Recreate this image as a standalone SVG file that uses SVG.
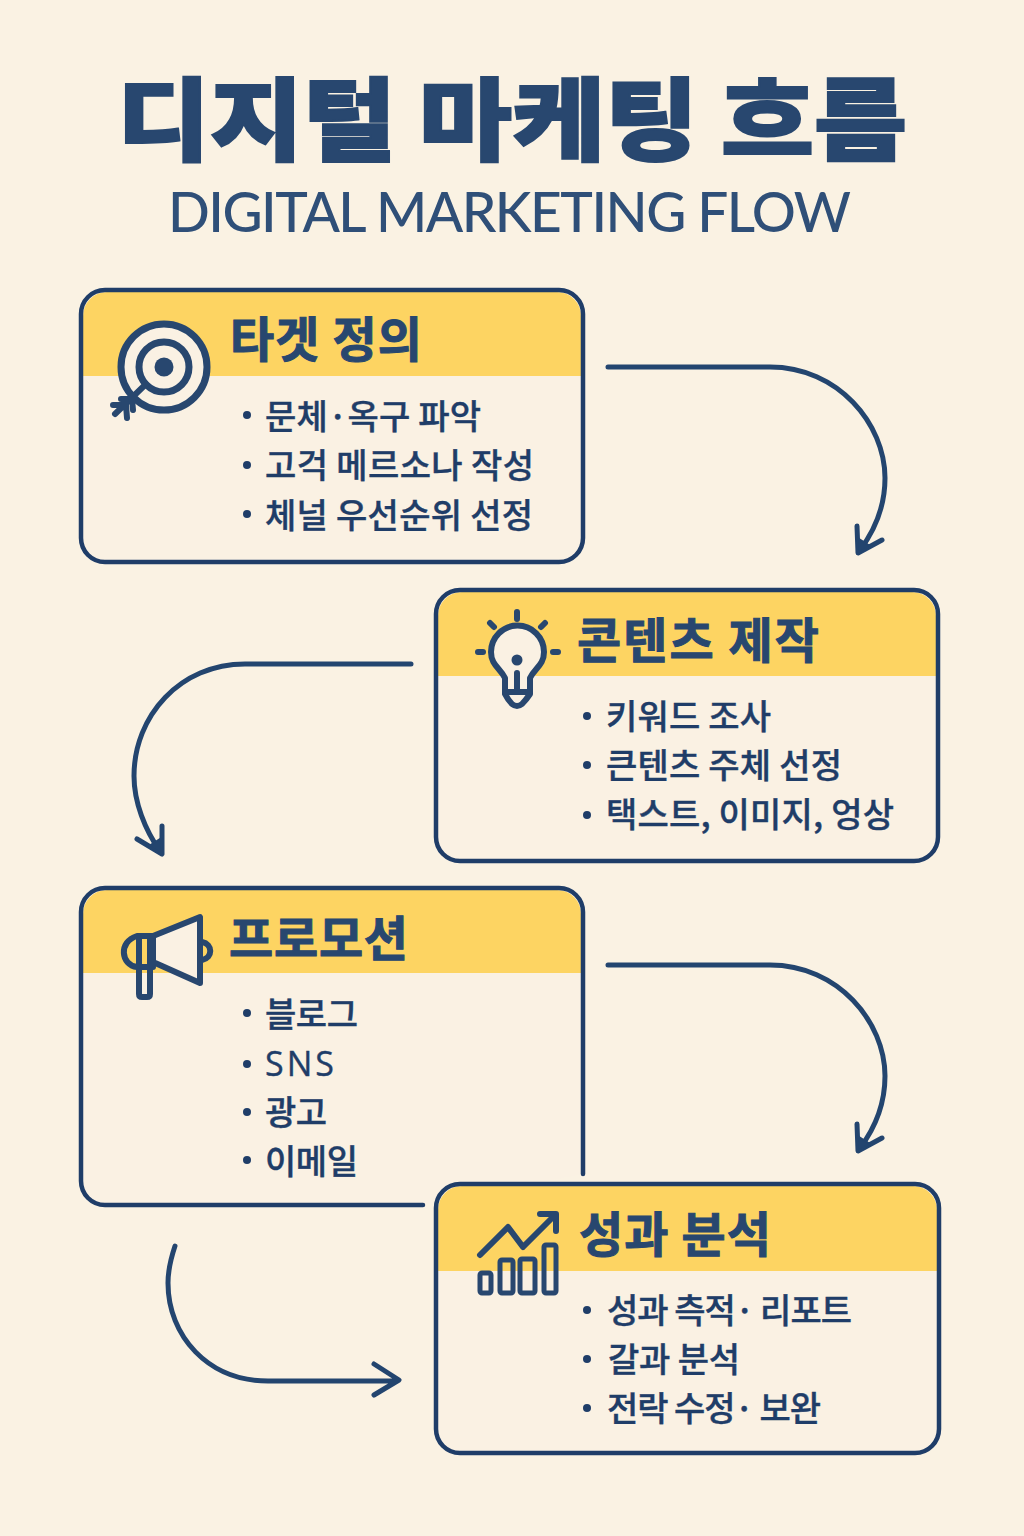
<svg xmlns="http://www.w3.org/2000/svg" width="1024" height="1536" viewBox="0 0 1024 1536">
<style>
text{font-family:"Noto Sans CJK KR","Noto Sans",sans-serif;fill:#1f3d68}
.t{font-size:48px;font-weight:700;fill:#28476f;stroke:#28476f;stroke-width:1}
.b{font-size:34px;font-weight:500;stroke:#1f3d68;stroke-width:.4}
.d{fill:#1f3d68}
.card{fill:#faf1e3}
.hd{fill:#fdd462}
.ln{fill:none;stroke:#1f3d68;stroke-width:4.5;stroke-linecap:round;stroke-linejoin:round}
.cn{fill:none;stroke:#23456f;stroke-width:5;stroke-linecap:round;stroke-linejoin:round}
.tip{fill:#23456f;stroke:#23456f;stroke-width:2;stroke-linejoin:round}
.ic{fill:none;stroke:#28476f;stroke-width:6;stroke-linecap:round;stroke-linejoin:round}
</style>
<rect width="1024" height="1536" fill="#faf2e3"/>
<g id="title">
<text x="117" y="153" font-size="90" font-weight="900" textLength="790" lengthAdjust="spacingAndGlyphs" style="fill:#28476f;stroke:#28476f;stroke-width:2">디지털 마케팅 흐름</text>
<text x="168" y="232" font-size="55" font-weight="500" textLength="683" lengthAdjust="spacing" style="fill:#2f4f78;font-family:Lato,'Noto Sans',sans-serif">DIGITAL MARKETING FLOW</text>
</g>
<g id="connectors">
<path class="cn" d="M608 367H770C838 367 885 424 885 478C885 505 875 530 860 550M857 526L858 553L882 540"/>
<path class="tip" d="M858 553L857.500 538L870 546Z"/>
<path class="cn" d="M411 664H245C180 664 134 716 134 776C134 802 145 830 160 851M137 839L162 854L162 826"/>
<path class="tip" d="M162 854L149 846L161.500 838Z"/>
<path class="cn" d="M608 965H770C838 965 885 1022 885 1076C885 1103 875 1128 860 1148M857 1124L858 1151L882 1138"/>
<path class="tip" d="M858 1151L857.500 1136L870 1144Z"/>
<path class="cn" d="M175 1246C171 1258 168 1270 168 1283C168 1336 208 1381 268 1381H396M374 1364L399 1380L374 1395"/>
</g>
<g id="node-target">
<rect class="card" x="81" y="290" width="502" height="272" rx="24"/>
<path class="hd" d="M83 376V316a24 24 0 0 1 24-24H557a24 24 0 0 1 24 24V376Z"/>
<path class="ln" d="M105 290H559a24 24 0 0 1 24 24V538a24 24 0 0 1-24 24H105a24 24 0 0 1-24-24V314a24 24 0 0 1 24-24Z"/>
<circle cx="164" cy="367" r="43" fill="#faf1e3" stroke="#28476f" stroke-width="7"/>
<circle cx="164" cy="367" r="25" fill="none" stroke="#28476f" stroke-width="7"/>
<circle cx="164" cy="367" r="9.5" fill="#28476f"/>
<path d="M146 384L115 414M113 405L126 405L127 418M121 399L132 399L133 410" fill="none" stroke="#28476f" stroke-width="6" stroke-linecap="round" stroke-linejoin="round"/>
<text class="t" x="230" y="357" textLength="192">타겟 정의</text>
<circle class="d" cx="247" cy="415" r="4"/><circle class="d" cx="247" cy="465" r="4"/><circle class="d" cx="247" cy="514" r="4"/>
<text class="b" x="265" y="429" textLength="216">문체·옥구 파악</text>
<text class="b" x="265" y="478" textLength="269">고걱 메르소나 작성</text>
<text class="b" x="265" y="528" textLength="268">체널 우선순위 선정</text>
</g>
<g id="node-content">
<rect class="card" x="436" y="590" width="502" height="271" rx="24"/>
<path class="hd" d="M438 676V616a24 24 0 0 1 24-24H912a24 24 0 0 1 24 24V676Z"/>
<path class="ln" d="M460 590H914a24 24 0 0 1 24 24V837a24 24 0 0 1-24 24H460a24 24 0 0 1-24-24V614a24 24 0 0 1 24-24Z"/>
<path class="ic" style="fill:#faf1e3" d="M505 678C500 668 491 665 491 652A26.500 26.500 0 0 1 544 652C544 665 535 668 530 678V694Q526 700 522 704Q517 708 512 704Q508 700 505 694Z"/>
<path class="ic" d="M517 673V691M505 692H530M517 612V619M490 623L494 627M545 623L541 627M478 652H483M553 652H558"/>
<circle cx="517" cy="660" r="5.500" fill="#28476f"/>
<text class="t" x="577" y="658" textLength="242">콘텐츠 제작</text>
<circle class="d" cx="587" cy="716" r="4"/><circle class="d" cx="587" cy="765" r="4"/><circle class="d" cx="587" cy="815" r="4"/>
<text class="b" x="606" y="729" textLength="165">키워드 조사</text>
<text class="b" x="606" y="778" textLength="236">큰텐츠 주체 선정</text>
<text class="b" x="606" y="827" textLength="288">택스트, 이미지, 엉상</text>
</g>
<g id="node-promotion">
<path class="card" d="M105 888H559a24 24 0 0 1 24 24V1174L423 1205H105a24 24 0 0 1-24-24V912a24 24 0 0 1 24-24Z"/>
<path class="hd" d="M83 973V914a24 24 0 0 1 24-24H557a24 24 0 0 1 24 24V973Z"/>
<path class="ln" d="M583 1174V912a24 24 0 0 0-24-24H105a24 24 0 0 0-24 24V1181a24 24 0 0 0 24 24H423"/>
<path class="ic" style="fill:#faf1e3" d="M153 936L200 917V983L153 962Z"/>
<path class="ic" d="M153 936H137C118 942 121 965 137 967H153M139 936V994Q139 997 142 997H147Q150 997 150 994V936M202 942C213 944 213 958 202 960"/>
<text class="t" x="229" y="956" textLength="179">프로모션</text>
<circle class="d" cx="247" cy="1013" r="4"/><circle class="d" cx="247" cy="1064" r="4"/><circle class="d" cx="247" cy="1112" r="4"/><circle class="d" cx="247" cy="1160" r="4"/>
<text class="b" x="265" y="1027" textLength="93">블로그</text>
<text class="b" x="265" y="1076" textLength="69" style="font-family:'Open Sans',sans-serif">SNS</text>
<text class="b" x="265" y="1125" textLength="62">광고</text>
<text class="b" x="265" y="1174" textLength="93">이메일</text>
</g>
<g id="node-analysis">
<rect class="card" x="436" y="1184" width="503" height="269" rx="24"/>
<path class="hd" d="M438 1271V1210a24 24 0 0 1 24-24H913a24 24 0 0 1 24 24V1271Z"/>
<path class="ln" d="M460 1184H915a24 24 0 0 1 24 24V1429a24 24 0 0 1-24 24H460a24 24 0 0 1-24-24V1208a24 24 0 0 1 24-24Z"/>
<path class="ic" d="M480 1255L508 1227L523 1247L555 1215M540 1214H556V1231"/>
<rect class="ic" style="stroke-width:5" x="480" y="1273" width="11" height="20" rx="2"/>
<rect class="ic" style="stroke-width:5" x="500" y="1260" width="13" height="33" rx="2"/>
<rect class="ic" style="stroke-width:5" x="520" y="1259" width="15" height="34" rx="2"/>
<rect class="ic" style="stroke-width:5" x="544" y="1245" width="12" height="48" rx="2"/>
<text class="t" x="579" y="1252" textLength="192">성과 분석</text>
<circle class="d" cx="587" cy="1310" r="4"/><circle class="d" cx="587" cy="1359" r="4"/><circle class="d" cx="587" cy="1408" r="4"/>
<text class="b" x="607" y="1323" textLength="245">성과 측적· 리포트</text>
<text class="b" x="608" y="1372" textLength="132">갈과 분석</text>
<text class="b" x="607" y="1421" textLength="214">전락 수정· 보완</text>
</g>
</svg>
